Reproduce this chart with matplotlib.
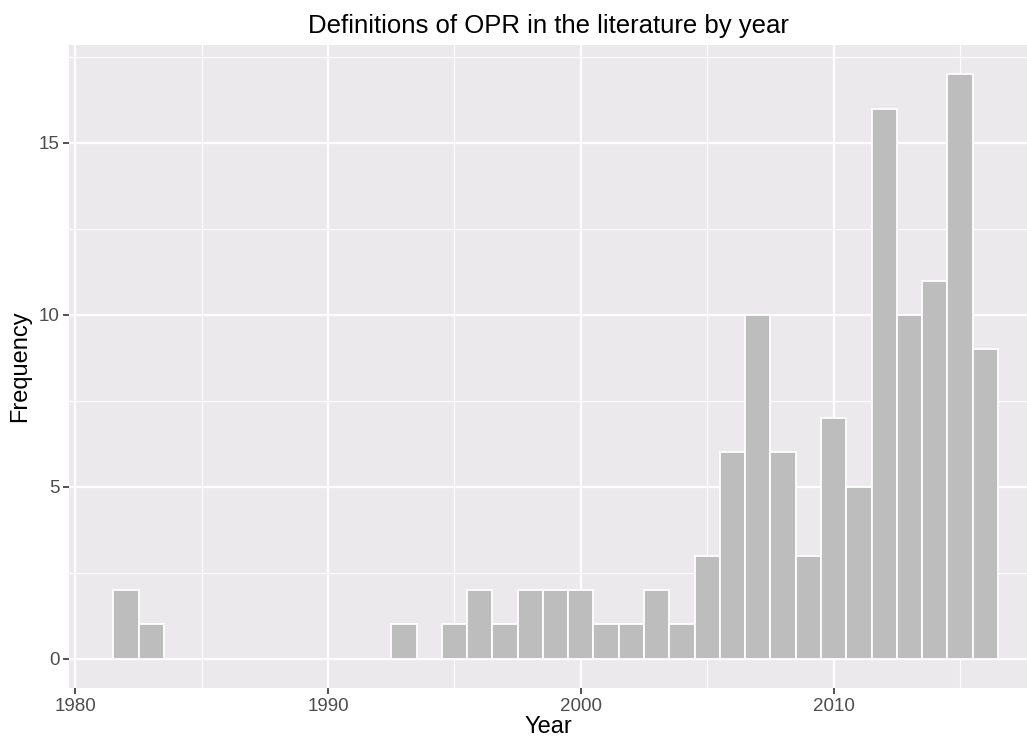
import numpy as np
import matplotlib
matplotlib.use('Agg')
import matplotlib.pyplot as plt
from matplotlib import rcParams

rcParams['font.family'] = ['Liberation Sans', 'DejaVu Sans']

years  = [1982, 1983, 1993, 1995, 1996, 1997, 1998, 1999, 2000, 2001, 2002, 2003,
          2004, 2005, 2006, 2007, 2008, 2009, 2010, 2011, 2012, 2013, 2014, 2015, 2016]
counts = [2, 1, 1, 1, 2, 1, 2, 2, 2, 1, 1, 2,
          1, 3, 6, 10, 6, 3, 7, 5, 16, 10, 11, 17, 9]

x_major = [1980, 1990, 2000, 2010]
x_minor = [1985, 1995, 2005, 2015]
y_major = [0, 5, 10, 15]
y_minor = [2.5, 7.5, 12.5, 17.5]

fig = plt.figure(figsize=(10.27, 7.40), dpi=100)
ax = fig.add_axes([69 / 1027, 52 / 740, 958 / 1027, 643 / 740])
ax.set_facecolor('#EBE9EB')

ax.bar(years, counts, width=1.0, color='#BEBDBE', edgecolor='white', linewidth=1.3, zorder=3)

for v in x_minor:
    ax.axvline(v, color='white', linewidth=0.8, zorder=1)
for v in y_minor:
    ax.axhline(v, color='white', linewidth=0.8, zorder=1)
for v in x_major:
    ax.axvline(v, color='white', linewidth=1.6, zorder=1)
for v in y_major:
    ax.axhline(v, color='white', linewidth=1.6, zorder=1)

ax.set_xlim(1979.75, 2017.65)
ax.set_ylim(-0.85, 17.85)
ax.set_xticks(x_major)
ax.set_yticks(y_major)
for s in ax.spines.values():
    s.set_visible(False)
ax.tick_params(axis='both', colors='#333333', length=4, width=1.2,
               labelsize=13.5, labelcolor='#4D4D4D', pad=3)

ax.set_xlabel('Year', fontsize=17, color='black', labelpad=1)
ax.set_ylabel('Frequency', fontsize=17, color='black', labelpad=5)
ax.set_title('Definitions of OPR in the literature by year', fontsize=18.5, color='black', pad=9)

plt.savefig('out.png', dpi=100)
